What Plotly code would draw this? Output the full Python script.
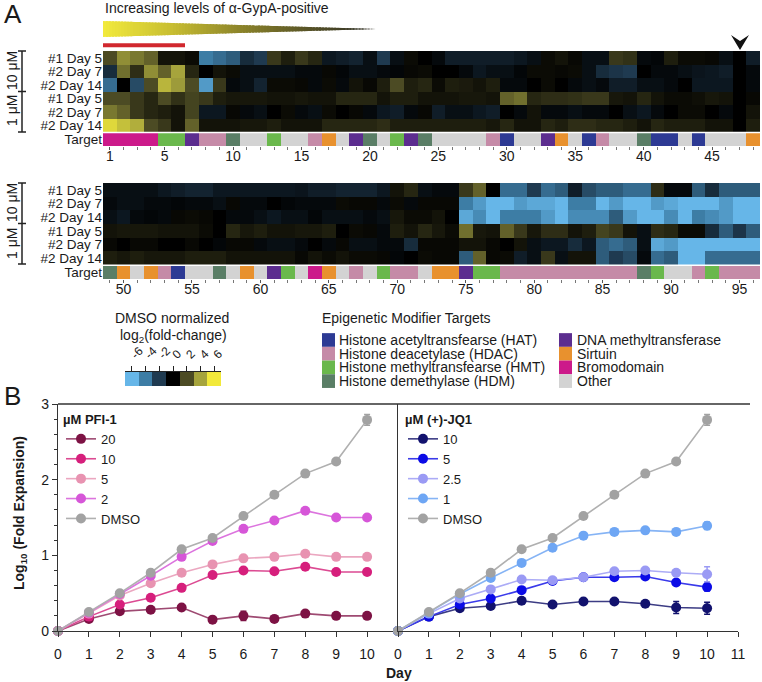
import plotly.graph_objects as go

W, H = 762, 682
def X(px): return px / W
def Y(py): return 1 - py / H

FONT = "Liberation Sans, Arial, Helvetica, sans-serif"
TXT = "#1a1a1a"

# ---------------- Panel A data ----------------
row_labels = ["#1 Day 5", "#2 Day 7", "#2 Day 14", "#1 Day 5", "#2 Day 7", "#2 Day 14"]
cols_top = list(range(1, 49))
cols_bot = list(range(49, 97))

top_r1 = [2, 3.5, 3, 2.5, 0.5, 0.5, 0.3, -4, -3.5, -3, -1.5, -2, 1.5, 0.8, 1.5, 1.0, -0.8, -1, -1.2, -0.5,
          -2, -0.5, 0.3, 0, -0.3, -1, -1, -1, -1, -1, -0.8, -0.5, 0.3, 0.5, 0.2, -0.5, -0.5, 1.5, 1.3, -0.3,
          -0.2, 0.8, 0.3, 0.3, 0.2, -0.5, 0, -1]
top_r2 = [-1.5, 2.8, 1.2, 3.5, 2.5, 4, 1, 0, 0.5, 0.3, -0.5, -0.5, -0.5, -0.5, -0.3, -0.3, 0.2, -0.2, -0.5, -0.5,
          -0.3, -0.2, 0.2, 0.3, 0, 0, -0.3, -0.8, -0.5, -0.5, -0.2, 0.3, 0.3, 0.2, 0.3, -0.5, -1.5, -1.8, -2, 0,
          -0.3, -0.3, -0.5, -0.7, -0.8, -1, 0, -0.3]
top_r3 = [-3.5, 0, -2.5, 2, 4.5, 3.8, 2, -5, 1.5, -0.3, -0.5, -1.2, 0.3, 0.3, 0.2, -0.3, 0.3, -0.3, 0.5, 0.2,
          0.8, 2, 0.8, 1, 0.3, 0.8, 0.7, 0.5, 0.8, -0.3, -0.3, 0, 0.3, 0, -0.3, -0.5, -0.3, -1, -1, -0.5,
          -0.5, -0.3, 0, -0.8, -0.8, -0.8, 0, -0.3]
top_r4 = [2, 2, 1.5, 1, 2, 1.3, 1.8, 1.5, 0.8, 0.6, 0.6, 0.6, 0.5, 0.5, 0.6, 0.5, 0.5, 1, 1, 1,
          0.5, 0.8, 0.8, 0.5, 0.5, 0.5, 0.6, 0.6, 0.5, 2.5, 2.8, 1, 1.2, 1.2, 1.3, 1.5, 1.5, 0.6, 0.5, 1,
          0.5, 0.3, 0.3, 0.4, 0.6, 0.5, 0, 0.2]
top_r5 = [3, 2.5, 1.5, 1, 0.8, 0.5, 1.8, -0.8, -0.8, 0.2, -0.3, -0.5, 0, 0.3, -0.3, -0.5, 0.3, 0, 0.2, -0.3,
          -0.8, -1, -0.3, 0.2, -1, -0.5, -0.5, -0.8, -1, 0, -0.3, 0.5, -0.3, -0.3, -0.5, -0.3, -0.3, 0, -0.5, -0.8,
          -0.3, 0, 0.3, 0.3, 0, -0.3, 0, 0.5]
top_r6 = [5.5, 4.8, 4.3, 2, 1.5, 0.5, 2.5, 0.5, 0.5, 0.5, 0.6, 0.6, 0.8, 0.5, 0.5, 0.5, 1, 1, 1, 1,
          1.2, 0.8, 0.8, 0.8, 0.8, 0.8, 0.8, 0.8, 0.6, 1, 0.5, 0.5, 1, 0.8, 1.2, 1.2, 1, 1, 0.8, 0.5,
          1, 0.8, 0.8, 0.8, 0.5, 0.5, 0, 0.8]

bot_r1 = [-0.5, -0.5, -0.5, -0.5, -0.8, -1, -1.2, -1.2, -0.8, -0.8, -0.8, -0.8, -0.8, -0.8, -0.7, -1, -1, -1.2, -1.2, -1.2,
          -0.8, 0.5, 1, -0.5, -0.3, -0.3, 1.5, 2.5, 0, -3.5, -3.5, -2, -3.5, -3, -1, -2.5, -3, -3, -3.5, -3.5,
          1.2, -0.3, -0.3, -3, -1.5, -3, -3, -3]
bot_r2 = [-0.3, -0.5, -0.5, -0.3, -0.3, -0.2, -0.3, -0.3, -0.5, 0.2, -0.3, -0.3, 0, -0.2, -0.3, -0.3, -0.3, 0.3, 0.2, 0.2,
          -0.3, 0.3, -0.3, 0.2, 0.2, 0.2, -4, -5, -6, -6, -5, -5.5, -5.5, -6, -4, -4, -6, -5, -6, -6,
          -5, -5.5, -6, -6, -6, -5, -6, -6]
bot_r3 = [-0.5, -0.8, -0.3, -0.2, -0.3, 0.2, 0.3, 0.2, 0, -0.3, -0.3, -0.5, -0.8, -0.5, -0.5, -0.2, -0.5, -0.5, -0.5, -0.3,
          -0.5, 0.6, 0.3, 0.3, 0.5, 0, -5.5, -4.5, -6, -4, -4, -4, -5, -6, -4.5, -4.5, -4.5, -3, -5, -6,
          -6, -4.5, -6, -4, -4.5, -5, -6, -6]
bot_r4 = [0.5, 0.6, 0.6, 0.6, 0.5, 0.5, 0.5, 0.3, 0, 1, 0.6, 0.8, 0.5, 0.5, 0.6, 0.6, 0.8, 0, 0.3, 0.2,
          -0.3, 0.8, 0.5, 1, 0.6, 0.3, 2.8, 0.6, 0.5, 2.5, 1.5, 0.6, 1.2, 1.2, 0.5, 0.8, 1.8, 1.5, 0.5, -0.5,
          1.2, 1, 0.3, 0.3, -1.5, -3, -1.8, -3]
bot_r5 = [0.2, 0, 0.2, 0.2, 0, 0, 0.2, 0, -0.2, 0.2, 0.2, -0.3, -0.5, -0.5, -0.3, 0, -0.3, 0.2, -0.5, -0.5,
          -0.3, -0.3, -1.5, 0.2, 0.2, 0.2, 0.5, 0.5, 0.2, 0, 0.5, -0.5, -0.8, -0.8, -1.5, -0.8, -3, -3.5, -3, -0.5,
          -5.5, -5, -6, -6, -6, -6, -6, -6]
bot_r6 = [0.8, 0.6, 0.8, 0.6, 0.6, 0.6, 0.8, 0.8, 0.8, 0.5, 0.5, 0.5, 0.5, 0.5, 0.2, 0.5, 0.3, 0.5, 0.3, 0.3,
          0.2, -0.2, 0, 0.3, 0.2, 0.2, -3, 2.5, 0.2, 0.3, -1, -0.5, 1.5, -0.5, 0.5, 0.5, -3, -2, -2.5, -0.3,
          -3.5, -3, -6, -6, -3.5, -3.5, -3.5, -3.5]

target_top = ["Bromo"] * 4 + ["HMT"] * 2 + ["DNMT"] + ["HDAC"] * 2 + ["HDM"] + ["Other"] * 2 + ["HMT"] + \
             ["Other"] * 2 + ["HDAC", "Sirtuin", "Other", "DNMT", "HDM", "Other", "HMT", "DNMT", "HDM"] + \
             ["Other"] * 4 + ["HDAC", "HAT"] + ["Other"] * 2 + ["DNMT", "Sirtuin", "Other", "HAT", "HDAC"] + \
             ["Other"] * 2 + ["HDM"] + ["HAT"] * 2 + ["Other", "HAT"] + ["Other"] * 3 + ["Sirtuin"]
target_bot = ["HDM", "Sirtuin", "Other", "Sirtuin", "HDAC", "HAT"] + ["Other"] * 2 + \
             ["HDM", "Other", "Sirtuin", "Other", "DNMT", "HMT", "Other", "Bromo", "Sirtuin", "Other", "HDAC",
              "Other", "HMT"] + ["HDAC"] * 2 + ["Other"] + ["Sirtuin"] * 2 + ["DNMT"] + ["HMT"] * 2 + \
             ["HDAC"] * 10 + ["HDM", "HMT"] + ["Other"] * 2 + ["HDAC", "HMT"] + ["HDAC"] * 3

target_keys = ["HAT", "HDAC", "HMT", "HDM", "DNMT", "Sirtuin", "Bromo", "Other"]
target_names = ["Histone acetyltransfearse (HAT)", "Histone deacetylase (HDAC)",
                "Histone methyltransfearse (HMT)", "Histone demethylase (HDM)",
                "DNA methyltransferase", "Sirtuin", "Bromodomain", "Other"]
target_colors = ["#2d3a94", "#c58aa7", "#6ab84c", "#5a7e66", "#5c2d8f", "#e8912e", "#cc1a8a", "#d3d3d3"]

cb_vals = [-6, -4, -2, 0, 2, 4, 6]
cb_labels = ["-6", "-4", "-2", "0", "2", "4", "6"]

# ---------------- Panel B data ----------------
days = list(range(11))
dmso = [0, 0.25, 0.50, 0.77, 1.08, 1.23, 1.52, 1.80, 2.08, 2.24, 2.79]
dmso_err = [0, 0, 0, 0, 0, 0, 0, 0, 0, 0.03, 0.07]
pfi_20 = [0, 0.16, 0.26, 0.28, 0.31, 0.15, 0.20, 0.16, 0.23, 0.20, 0.20]
pfi_20_err = [0, 0, 0, 0, 0, 0.02, 0.06, 0.02, 0, 0, 0]
pfi_10 = [0, 0.19, 0.35, 0.44, 0.57, 0.74, 0.80, 0.79, 0.85, 0.78, 0.78]
pfi_10_err = [0, 0, 0, 0, 0, 0, 0, 0, 0, 0.02, 0.02]
pfi_5 = [0, 0.23, 0.47, 0.63, 0.77, 0.88, 0.96, 0.98, 1.02, 0.98, 0.98]
pfi_5_err = [0, 0, 0, 0, 0, 0, 0, 0, 0, 0.02, 0.02]
pfi_2 = [0, 0.24, 0.49, 0.73, 0.98, 1.19, 1.35, 1.46, 1.59, 1.50, 1.50]
pfi_2_err = [0, 0, 0, 0, 0, 0, 0, 0, 0, 0, 0]
jq_10 = [0, 0.19, 0.30, 0.33, 0.40, 0.35, 0.39, 0.39, 0.36, 0.31, 0.30]
jq_10_err = [0, 0, 0, 0, 0, 0, 0, 0, 0.03, 0.08, 0.08]
jq_5 = [0, 0.19, 0.35, 0.43, 0.54, 0.66, 0.71, 0.71, 0.72, 0.64, 0.58]
jq_5_err = [0, 0, 0, 0, 0, 0, 0, 0, 0, 0.03, 0.05]
jq_25 = [0, 0.23, 0.43, 0.55, 0.68, 0.67, 0.71, 0.79, 0.80, 0.77, 0.75]
jq_25_err = [0, 0, 0, 0, 0, 0, 0, 0, 0, 0.04, 0.10]
jq_1 = [0, 0.24, 0.49, 0.70, 0.90, 1.10, 1.26, 1.31, 1.33, 1.31, 1.39]
jq_1_err = [0, 0, 0, 0, 0.03, 0, 0, 0, 0, 0, 0.05]

# ---------------- styles ----------------
heat_scale = [[0.0, "#66b6e8"], [1/6, "#3d7da5"], [2/6, "#1f3a50"], [0.5, "#000000"],
              [4/6, "#4c4b24"], [5/6, "#a6a43c"], [1.0, "#f2e93a"]]
tgt_scale = []
for i, c in enumerate(target_colors):
    tgt_scale.append([i / 8, c])
    tgt_scale.append([(i + 1) / 8, c])

fig = go.Figure()

def add_heat(cols, rows, targets, xa, ya):
    fig.add_trace(go.Heatmap(x=cols, y=list(range(6)), z=rows, colorscale=heat_scale,
                             zmin=-6, zmax=6, showscale=False, xaxis=xa, yaxis=ya, hoverinfo="skip"))
    codes = [target_keys.index(t) for t in targets]
    fig.add_trace(go.Heatmap(x=cols, y=[6], z=[codes], colorscale=tgt_scale, zmin=-0.5, zmax=7.5,
                             showscale=False, xaxis=xa, yaxis=ya, hoverinfo="skip"))

add_heat(cols_top, [top_r1, top_r2, top_r3, top_r4, top_r5, top_r6], target_top, "x", "y")
add_heat(cols_bot, [bot_r1, bot_r2, bot_r3, bot_r4, bot_r5, bot_r6], target_bot, "x2", "y2")

# colour key
fig.add_trace(go.Heatmap(x=list(range(7)), y=[0], z=[cb_vals], colorscale=heat_scale, zmin=-6, zmax=6,
                         showscale=False, xaxis="x3", yaxis="y3", hoverinfo="skip"))

# line charts
def add_line(xa, ya, vals, err, name, mcol, lcol, legend):
    fig.add_trace(go.Scatter(x=days, y=vals, name=name, mode="lines+markers",
                             line=dict(color=lcol, width=1.6),
                             marker=dict(color=mcol, size=10),
                             error_y=dict(type="data", array=err, color=mcol, thickness=1.5, width=3),
                             cliponaxis=False, xaxis=xa, yaxis=ya, legend=legend))

add_line("x4", "y4", pfi_20, pfi_20_err, "20", "#7d1244", "#9e4a72", "legend")
add_line("x4", "y4", pfi_10, pfi_10_err, "10", "#d61f7c", "#dc4a92", "legend")
add_line("x4", "y4", pfi_5, pfi_5_err, "5", "#e893b1", "#eba7c0", "legend")
add_line("x4", "y4", pfi_2, pfi_2_err, "2", "#d656d8", "#dc74de", "legend")
add_line("x4", "y4", dmso, dmso_err, "DMSO", "#a2a2a2", "#b0b0b0", "legend")

add_line("x5", "y5", jq_10, jq_10_err, "10", "#12126e", "#3c3c84", "legend2")
add_line("x5", "y5", jq_5, jq_5_err, "5", "#0b0be6", "#3a3aea", "legend2")
add_line("x5", "y5", jq_25, jq_25_err, "2.5", "#9a9af4", "#acacf6", "legend2")
add_line("x5", "y5", jq_1, jq_1_err, "1", "#6ea6f4", "#86b4f5", "legend2")
add_line("x5", "y5", dmso, dmso_err, "DMSO", "#a2a2a2", "#b0b0b0", "legend2")

# ---------------- axes ----------------
tick_font = dict(family=FONT, size=14, color=TXT)
row_font = dict(family=FONT, size=13.5, color=TXT)
hx = dict(showgrid=False, zeroline=False, ticks="outside", ticklen=3, tickcolor="#555",
          minor=dict(dtick=1, ticks="outside", ticklen=3, tickcolor="#777"), tickfont=tick_font,
          ticklabelstandoff=-6, showline=False, fixedrange=True, automargin=False)
hy = dict(showgrid=False, zeroline=False, ticks="", tickvals=list(range(7)),
          ticktext=row_labels + ["Target"], range=[6.5, -0.5], tickfont=row_font, fixedrange=True,
          automargin=False)

lax = dict(showgrid=False, zeroline=False, showline=True, linecolor="#333", linewidth=1.3,
           ticks="outside", ticklen=5, tickcolor="#333", tickwidth=1.3, tickfont=tick_font,
           fixedrange=True, automargin=False)

leg_common = dict(xanchor="left", yanchor="top", bgcolor="rgba(0,0,0,0)",
                  font=dict(family=FONT, size=13, color=TXT), tracegroupgap=0, itemwidth=30)

fig.update_layout(
    width=W, height=H, margin=dict(l=0, r=0, t=0, b=0, autoexpand=False),
    paper_bgcolor="white", plot_bgcolor="white",
    font=dict(family=FONT, size=14, color=TXT),
    xaxis=dict(domain=[X(103), X(760)], range=[0.5, 48.5], anchor="y",
               tickvals=[1, 5, 10, 15, 20, 25, 30, 35, 40, 45], **hx),
    yaxis=dict(domain=[Y(146), Y(51)], anchor="x", **hy),
    xaxis2=dict(domain=[X(103), X(760)], range=[48.5, 96.5], anchor="y2",
                tickvals=[50, 55, 60, 65, 70, 75, 80, 85, 90, 95], **hx),
    yaxis2=dict(domain=[Y(279), Y(183)], anchor="x2", **hy),
    xaxis3=dict(domain=[X(125), X(221)], range=[-0.5, 6.5], anchor="y3", side="top",
                tickvals=list(range(7)), ticktext=cb_labels, tickangle=-45,
                ticks="outside", ticklen=5, tickcolor="#222", showline=True, linecolor="#222",
                showgrid=False, zeroline=False, tickfont=dict(family=FONT, size=12, color=TXT),
                fixedrange=True, automargin=False),
    yaxis3=dict(domain=[Y(386), Y(372)], range=[-0.5, 0.5], anchor="x3", visible=False, fixedrange=True),
    xaxis4=dict(domain=[X(58), X(398)], range=[0, 11], anchor="y4", tickvals=list(range(11)),
                ticklabelstandoff=5, **lax),
    yaxis4=dict(domain=[Y(631), Y(404)], range=[0, 3], anchor="x4", tickvals=[0, 1, 2, 3],
                minor=dict(dtick=0.2, ticks="outside", ticklen=3, tickcolor="#333"), **lax),
    xaxis5=dict(domain=[X(398), X(738)], range=[0, 11], anchor="y5", tickvals=list(range(12)),
                ticklabelstandoff=5, **lax),
    yaxis5=dict(domain=[Y(631), Y(404)], range=[0, 3], anchor="x5", showticklabels=False,
                showgrid=False, zeroline=False, showline=True, linecolor="#333", linewidth=1.3,
                ticks="", fixedrange=True, automargin=False),
    legend=dict(x=X(61), y=Y(407),
                title=dict(text="µM PFI-1", font=dict(family=FONT, size=13, color=TXT, weight="bold")),
                **leg_common),
    legend2=dict(x=X(403), y=Y(407),
                 title=dict(text="µM (+)-JQ1", font=dict(family=FONT, size=13, color=TXT, weight="bold")),
                 **leg_common),
)

# ---------------- shapes ----------------
shapes = []
def pline(x0, y0, x1, y1, color="#222", width=1.5):
    shapes.append(dict(type="line", xref="paper", yref="paper", x0=X(x0), y0=Y(y0), x1=X(x1), y1=Y(y1),
                       line=dict(color=color, width=width)))

# gradient wedge
x0w, x1w, yc, hh = 103, 377, 29, 8
stops = [(0.0, (242, 234, 60)), (0.25, (200, 190, 50)), (0.5, (140, 132, 42)),
         (0.75, (88, 84, 40)), (1.0, (45, 45, 38))]
def grad(t):
    for (ta, ca), (tb, cb) in zip(stops[:-1], stops[1:]):
        if t <= tb:
            f = (t - ta) / (tb - ta)
            return "rgb(%d,%d,%d)" % tuple(round(a + (b - a) * f) for a, b in zip(ca, cb))
    return "rgb(45,45,38)"
N = 90
for i in range(N):
    xa = x0w + (x1w - x0w) * i / N
    xb = x0w + (x1w - x0w) * min(i + 1.6, N) / N
    ha = hh * (1 - (xa - x0w) / (x1w - x0w))
    hb = hh * (1 - (xb - x0w) / (x1w - x0w))
    path = "M %f,%f L %f,%f L %f,%f L %f,%f Z" % (X(xa), Y(yc - ha), X(xb), Y(yc - hb),
                                                 X(xb), Y(yc + hb), X(xa), Y(yc + ha))
    shapes.append(dict(type="path", xref="paper", yref="paper", path=path,
                       fillcolor=grad((i + 0.5) / N), line=dict(width=0)))

# red bar
shapes.append(dict(type="rect", xref="paper", yref="paper", x0=X(103), x1=X(185), y0=Y(47.3), y1=Y(43.3),
                   fillcolor="#d1282e", line=dict(width=0)))
# arrowhead
ap = "M %f,%f L %f,%f L %f,%f L %f,%f Z" % (X(731), Y(35), X(740), Y(50), X(749), Y(35), X(740), Y(41))
shapes.append(dict(type="path", xref="paper", yref="paper", path=ap, fillcolor="#111", line=dict(width=0)))

# separators between data rows and target rows
for xa, ya, lo, hi in [("x", "y", 0.5, 48.5), ("x2", "y2", 48.5, 96.5)]:
    shapes.append(dict(type="line", xref=xa, yref=ya, x0=lo, x1=hi, y0=5.5, y1=5.5,
                       line=dict(color="white", width=1.5)))

# concentration brackets
for top, mid, bot in [(51, 91.5, 132), (183, 223.5, 264)]:
    pline(22, top, 22, bot)
    for yy in (top, mid, bot):
        pline(18, yy, 26, yy)

# epigenetic legend swatches
leg_rows = [340, 353.7, 367.4, 381.1]
for i, (name, col) in enumerate(zip(target_names, target_colors)):
    cx = 322 if i < 4 else 559
    cy = leg_rows[i % 4]
    shapes.append(dict(type="rect", xref="paper", yref="paper", x0=X(cx), x1=X(cx + 13),
                       y0=Y(cy + 6.85), y1=Y(cy - 6.85), fillcolor=col, line=dict(width=0)))

# top borders of panel B
pline(58, 404, 750, 404, color="#333", width=1.3)

fig.update_layout(shapes=shapes)

# ---------------- annotations ----------------
ann = []
def text(x, y, s, size=14, xanchor="center", angle=0, bold=False):
    ann.append(dict(x=X(x), y=Y(y), xref="paper", yref="paper", text=s, showarrow=False,
                    xanchor=xanchor, yanchor="middle", textangle=angle,
                    font=dict(family=FONT, size=size, color=TXT, weight="bold" if bold else "normal")))

text(2, 14, "A", size=26, xanchor="left")
text(103, 8, "Increasing levels of α-GypA-positive", xanchor="left")
text(12, 71, "10 μM", angle=-90)
text(12, 111, "1 μM", angle=-90)
text(12, 203, "10 μM", angle=-90)
text(12, 244, "1 μM", angle=-90)
text(172, 318, "DMSO normalized")
text(173, 336, "log<sub>2</sub>(fold-change)")
text(320, 318, "Epigenetic Modifier Targets", xanchor="left")
for i, name in enumerate(target_names):
    tx = 337 if i < 4 else 575
    text(tx, leg_rows[i % 4], name, size=14, xanchor="left")
text(2, 396, "B", size=26, xanchor="left")
text(20, 513, "Log<sub>10</sub> (Fold Expansion)", angle=-90, bold=True)
text(399, 673, "Day", bold=True)

fig.update_layout(annotations=ann)

fig.write_html("out.html", config={"displayModeBar": False},
               post_script="document.body.style.margin='0px';document.body.style.overflow='hidden';")
